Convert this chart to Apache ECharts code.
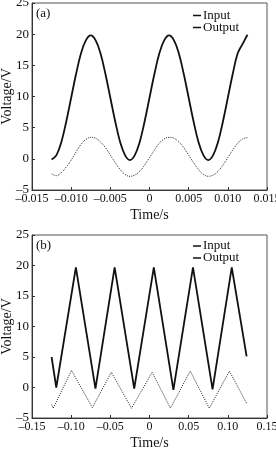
<!DOCTYPE html>
<html><head><meta charset="utf-8">
<script src="https://cdn.jsdelivr.net/npm/echarts@6/dist/echarts.min.js"></script>
<style>html,body{margin:0;padding:0;background:#fff}#c{width:276px;height:449px}</style>
</head><body><div id="c"></div>
<script>
// Panel (a): sinusoidal excitation
const timeA = [-0.0125,-0.011875,-0.01125,-0.010625,-0.01,-0.009375,-0.00875,-0.008125,-0.0075,-0.006875,-0.00625,-0.005625,-0.005,-0.004375,-0.00375,-0.003125,-0.0025,-0.001875,-0.00125,-0.000625,0,0.000625,0.00125,0.001875,0.0025,0.003125,0.00375,0.004375,0.005,0.005625,0.00625,0.006875,0.0075,0.008125,0.00875,0.009375,0.01,0.010625,0.01125,0.011875,0.0125];
const inputA = [-0.1,0.6,2.7,6.0,9.8,13.6,16.9,19.0,19.8,19.0,16.9,13.6,9.8,6.0,2.7,0.6,-0.2,0.6,2.7,6.0,9.8,13.6,16.9,19.0,19.8,19.0,16.9,13.6,9.8,6.0,2.7,0.6,-0.2,0.6,2.7,6.0,9.8,13.6,16.9,18.4,19.9];
const outputA = [-2.4,-2.7,-2.2,-1.3,-0.2,1.1,2.3,3.1,3.45,3.3,2.7,1.8,0.6,-0.6,-1.7,-2.5,-2.8,-2.6,-2.0,-1.0,0.2,1.4,2.5,3.2,3.45,3.3,2.7,1.8,0.6,-0.6,-1.7,-2.5,-2.8,-2.6,-2.0,-1.0,0.2,1.4,2.5,3.2,3.4];
// Panel (b): triangular excitation
const timeBIn = [-0.125,-0.119,-0.094,-0.069,-0.0445,-0.0195,0.0055,0.0305,0.0555,0.0805,0.105,0.124];
const inputB = [5.0,0.0,19.7,-0.2,19.7,-0.2,19.7,-0.4,19.7,-0.3,19.7,5.1];
const timeBOut = [-0.125,-0.123,-0.0995,-0.073,-0.0487,-0.023,0.0034,0.0267,0.052,0.0763,0.102,0.124];
const outputB = [-2.8,-3.4,2.8,-3.3,2.5,-3.4,2.5,-3.4,2.7,-3.4,2.7,-2.6];
const yTicks = [-5,0,5,10,15,20,25];
const xTicksA = [-0.015,-0.010,-0.005,0,0.005,0.010,0.015];
const xTicksB = [-0.15,-0.10,-0.05,0,0.05,0.10,0.15];

const pair = (xs, ys) => xs.map((x, i) => [x, ys[i]]);
const FONT = '"Liberation Serif","DejaVu Serif",serif';
const yTxt = {fontFamily: FONT, fontSize: 13, color: '#111'};
const xTxt = {fontFamily: FONT, fontSize: 12, color: '#111'};
const nameTxt = {fontFamily: FONT, fontSize: 14, color: '#111'};
const fmtX = d => v => (Math.abs(v) < 1e-9 ? '0' : v.toFixed(d).replace('-', '\u2013'));
const fmtY = v => String(v).replace('-', '\u2013');

function xAxis(gi, ticks, d) {
  return {
    type: 'value', gridIndex: gi, min: ticks[0], max: ticks[ticks.length - 1],
    interval: ticks[1] - ticks[0],
    name: 'Time/s', nameLocation: 'middle', nameGap: 18, nameTextStyle: nameTxt, nameMoveOverlap: false,
    axisLine: {show: true, onZero: false, lineStyle: {color: '#333', width: 1}},
    axisTick: {show: true, inside: true, length: 3, lineStyle: {color: '#333'}},
    axisLabel: Object.assign({margin: 3, formatter: fmtX(d), hideOverlap: false, showMinLabel: true, showMaxLabel: true}, xTxt),
    splitLine: {show: false}
  };
}
function yAxis(gi) {
  return {
    type: 'value', gridIndex: gi, min: yTicks[0], max: yTicks[yTicks.length - 1], interval: 5,
    name: 'Voltage/V', nameLocation: 'middle', nameGap: 18, nameTextStyle: nameTxt, nameMoveOverlap: false,
    axisLine: {show: true, onZero: false, lineStyle: {color: '#333', width: 1}},
    axisTick: {show: true, inside: true, length: 3, lineStyle: {color: '#333'}},
    axisLabel: Object.assign({margin: 3, formatter: fmtY, hideOverlap: false, showMinLabel: true, showMaxLabel: true}, yTxt),
    splitLine: {show: false}
  };
}
const solid = {color: '#111', width: 1.8, type: 'solid'};
const dotted = {color: '#222', width: 1, type: [1, 1.2]};
const legendItems = [
  {name: 'Input', icon: 'rect', itemStyle: {color: '#111'}},
  {name: 'Output', icon: 'rect', itemStyle: {color: '#111'}}
];
const legendText = {fontFamily: FONT, fontSize: 13, color: '#111', padding: [0, 0, 0, -3]};

const chart = echarts.init(document.getElementById('c'), null, {renderer: 'canvas'});
chart.setOption({
  animation: false,
  backgroundColor: '#fff',
  grid: [
    {left: 32, top: 3, width: 235, height: 187, outerBoundsMode: 'none', containLabel: false, show: true, borderColor: '#555', borderWidth: 1, backgroundColor: 'transparent'},
    {left: 32, top: 235, width: 235, height: 183, outerBoundsMode: 'none', containLabel: false, show: true, borderColor: '#555', borderWidth: 1, backgroundColor: 'transparent'}
  ],
  xAxis: [xAxis(0, xTicksA, 3), xAxis(1, xTicksB, 2)],
  yAxis: [yAxis(0), yAxis(1)],
  legend: [
    {orient: 'vertical', left: 193, top: 9, itemWidth: 8, itemHeight: 1.5, itemGap: -1, textStyle: legendText,
     data: legendItems, selectedMode: false, padding: 0},
    {orient: 'vertical', left: 193, top: 239.5, itemWidth: 8, itemHeight: 1.5, itemGap: -1, textStyle: legendText,
     data: legendItems, selectedMode: false, padding: 0}
  ],
  graphic: [
    {type: 'text', left: 36, top: 7, style: {text: '(a)', font: '13px ' + FONT, fill: '#111'}},
    {type: 'text', left: 36, top: 239, style: {text: '(b)', font: '13px ' + FONT, fill: '#111'}}
  ],
  series: [
    {name: 'Input', type: 'line', xAxisIndex: 0, yAxisIndex: 0, data: pair(timeA, inputA), smooth: 0.4, symbol: 'none', lineStyle: solid, itemStyle: {color: '#111'}},
    {name: 'Output', type: 'line', xAxisIndex: 0, yAxisIndex: 0, data: pair(timeA, outputA), smooth: 0.4, symbol: 'none', lineStyle: dotted, itemStyle: {color: '#111'}},
    {name: 'Input', type: 'line', xAxisIndex: 1, yAxisIndex: 1, data: pair(timeBIn, inputB), symbol: 'none', lineStyle: solid, itemStyle: {color: '#111'}},
    {name: 'Output', type: 'line', xAxisIndex: 1, yAxisIndex: 1, data: pair(timeBOut, outputB), symbol: 'none', lineStyle: dotted, itemStyle: {color: '#111'}}
  ]
});
</script></body></html>
